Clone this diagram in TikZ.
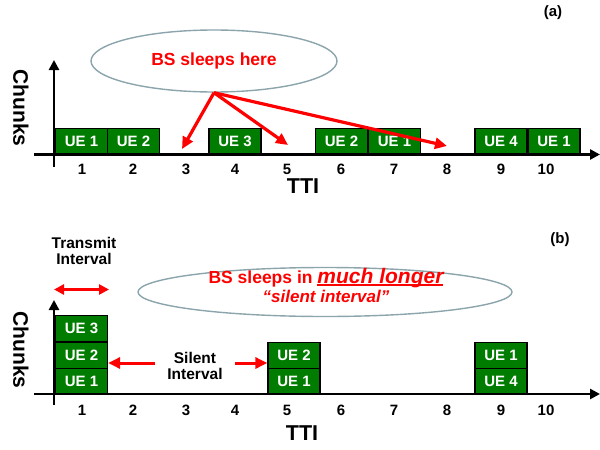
\documentclass[tikz,border=0pt]{standalone}
\usepackage{fontspec}
\setmainfont{Liberation Sans}
\usetikzlibrary{arrows.meta,shapes.geometric}
\definecolor{uegreen}{RGB}{0,125,0}
\definecolor{ellgray}{RGB}{140,165,172}
\definecolor{sred}{RGB}{255,0,0}
\newcommand{\myul}[1]{\setbox0\hbox{#1}\rlap{\rule[-2.6pt]{\wd0}{1.6pt}}\box0}
\begin{document}
\begin{tikzpicture}[x=1pt,y=-1pt,
  uebox/.style={draw=black, line width=1.3pt, fill=uegreen, text=white,
    font=\bfseries\fontsize{15}{15}\selectfont, minimum width=52pt, minimum height=26.5pt, inner sep=0pt},
  axisline/.style={line width=2.6pt, -{Triangle[length=10pt,width=10pt]}},
  redarrow/.style={draw=sred, line width=3.2pt, -{Triangle[length=12pt,width=11pt]}},
  redboth/.style={draw=sred, line width=3pt, {Triangle[length=10pt,width=10pt]}-{Triangle[length=10pt,width=10pt]}},
  ticklab/.style={font=\bfseries\fontsize{15}{15}\selectfont, inner sep=0.5pt},
  ttilab/.style={font=\bfseries\fontsize{21.5}{21.5}\selectfont, inner sep=0.5pt},
  chunklab/.style={font=\bfseries\fontsize{21}{21}\selectfont, rotate=-90},
  panlab/.style={font=\bfseries\fontsize{15}{15}\selectfont},
  smalllab/.style={font=\bfseries\fontsize{15.5}{15.5}\selectfont, align=center},
  cloud/.style={ellipse, draw=ellgray, line width=1.4pt, fill=white, inner sep=0pt}
]
\useasboundingbox (0,0) rectangle (600,450);

% ---------------- panel (a) ----------------
\node[panlab] (pa) at (553,13) {(a)};
\node[cloud, minimum width=246pt, minimum height=62pt, text=sred,
  font=\bfseries\fontsize{17.5}{17.5}\selectfont] (ella) at (214,61) {BS sleeps here};

\coordinate (ax0) at (34,154.5);
\coordinate (ax1) at (600,154.5);
\coordinate (ay0) at (54,167);
\coordinate (ay1) at (54,60);

\node[uebox] (a1) at (81.5,141.5) {UE 1};
\node[uebox] (a2) at (133.5,141.5) {UE 2};
\node[uebox] (a3) at (235,141.5) {UE 3};
\node[uebox] (a4) at (341.5,141.5) {UE 2};
\node[uebox] (a5) at (394.5,141.5) {UE 1};
\node[uebox] (a6) at (501,141.5) {UE 4};
\node[uebox] (a7) at (554,141.5) {UE 1};

\draw[axisline] (ax0) -- (ax1);
\draw[axisline] (ay0) -- (ay1);

\coordinate (t1) at (182,149);
\coordinate (t2) at (288,145);
\coordinate (t3) at (447,146);
\draw[redarrow] (ella.south) -- (t1);
\draw[redarrow] (ella.south) -- (t2);
\draw[redarrow] (ella.south) -- (t3);

\foreach \n/\x in {1/82,2/133,3/186,4/235,5/287,6/341,7/394,8/447,9/501,10/546}
  \node[ticklab] (la\n) at (\x,169.5) {\n};
\node[ttilab] (ttia) at (303,186.5) {TTI};
\node[chunklab] (cha) at (21,108) {Chunks};

% ---------------- panel (b) ----------------
\node[panlab] (pb) at (560,240) {(b)};
\node[smalllab] (trans) at (84,251) {Transmit\\[1pt]Interval};
\coordinate (d0) at (54,289.5);
\coordinate (d1) at (109,289.5);
\draw[redboth] (d0) -- (d1);

\node[cloud, minimum width=374pt, minimum height=49pt] (ellb) at (325,292) {};
\node[text=sred, align=center, inner sep=0pt] (bstxt) at (326,285.5)
  {{\bfseries\fontsize{17.5}{17.5}\selectfont BS sleeps in \myul{\itshape\fontsize{21}{21}\selectfont much longer}}\\[2pt]
   {\bfseries\itshape\fontsize{17}{17}\selectfont “silent interval”}};

\coordinate (bx0) at (34,394);
\coordinate (bx1) at (600,394);
\coordinate (by0) at (54,405);
\coordinate (by1) at (54,300);

\node[uebox] (b1) at (81.5,381) {UE 1};
\node[uebox] (b2) at (81.5,355.5) {UE 2};
\node[uebox] (b3) at (81.5,328.5) {UE 3};
\node[uebox] (b4) at (294,381) {UE 1};
\node[uebox] (b5) at (294,355.5) {UE 2};
\node[uebox] (b6) at (501,381) {UE 4};
\node[uebox] (b7) at (501,355.5) {UE 1};

\draw[axisline] (bx0) -- (bx1);
\draw[axisline] (by0) -- (by1);

\node[smalllab] (silent) at (195,366) {Silent\\[1pt]Interval};
\coordinate (s1) at (155,363);
\coordinate (s2) at (235,363);
\draw[redarrow, line width=3pt] (s1) -- (s1 -| b2.east);
\draw[redarrow, line width=3pt] (s2) -- (s2 -| b5.west);

\foreach \n/\x in {1/82,2/133,3/186,4/235,5/287,6/341,7/394,8/447,9/501,10/546}
  \node[ticklab] (lb\n) at (\x,410) {\n};
\node[ttilab] (ttib) at (302,433) {TTI};
\node[chunklab] (chb) at (21,350) {Chunks};
\end{tikzpicture}
\end{document}
